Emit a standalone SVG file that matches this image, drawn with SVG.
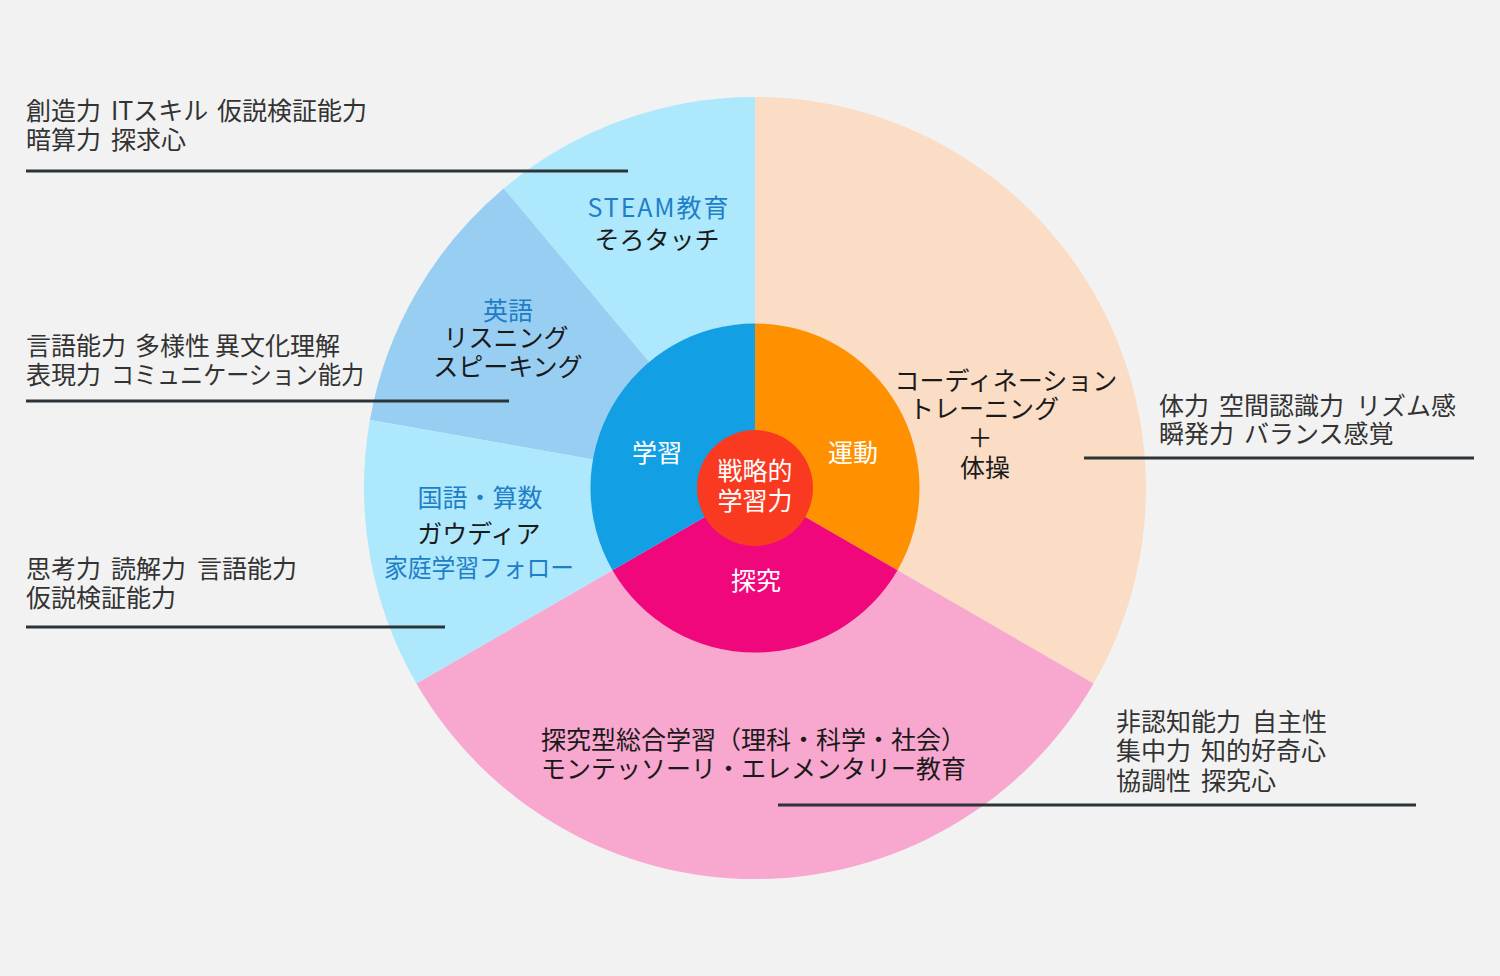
<svg xmlns="http://www.w3.org/2000/svg" width="1500" height="976" viewBox="0 0 1500 976">
<style>
text{font-family:"Noto Sans CJK JP","Noto Sans",sans-serif;font-size:25px}
.lbl{fill:#333333}
.blk{fill:#1a1a1a}
.blu{fill:#1e7ec8}
.wht{fill:#ffffff}
.mid{text-anchor:middle}
.ln{stroke:#2b3438;stroke-width:3;fill:none}
</style>
<rect width="1500" height="976" fill="#f2f2f2"/>
<g id="outer-ring">
<path id="sec-undou" d="M755,488 L755,97 A391,391 0 0 1 1093.6,683.5 Z" fill="#fbdcc4"/>
<path id="sec-tankyu" d="M755,488 L1093.6,683.5 A391,391 0 0 1 416.4,683.5 Z" fill="#f8a7ce"/>
<path id="sec-steam" d="M755,488 L503.7,188.5 A391,391 0 0 1 755,97 Z" fill="#aee8fc"/>
<path id="sec-eigo" d="M755,488 L369.9,420.1 A391,391 0 0 1 503.7,188.5 Z" fill="#99cef3"/>
<path id="sec-kokugo" d="M755,488 L416.4,683.5 A391,391 0 0 1 369.9,420.1 Z" fill="#aee8fc"/>
</g>
<g id="inner-ring">
<path id="in-undou" d="M755,488 L755,323.5 A164.5,164.5 0 0 1 897.5,570.25 Z" fill="#ff9000"/>
<path id="in-tankyu" d="M755,488 L897.5,570.25 A164.5,164.5 0 0 1 612.5,570.25 Z" fill="#ef077b"/>
<path id="in-gakushu" d="M755,488 L612.5,570.25 A164.5,164.5 0 0 1 755,323.5 Z" fill="#129fe4"/>
</g>
<g id="center">
<circle cx="755" cy="488" r="58" fill="#f93a20"/>
<text class="wht mid" x="755" y="480">戦略的</text>
<text class="wht mid" x="755" y="510">学習力</text>
</g>
<g id="inner-labels">
<text class="wht mid" x="657" y="462">学習</text>
<text class="wht mid" x="853" y="462">運動</text>
<text class="wht mid" x="756" y="590">探究</text>
</g>
<g id="node-steam">
<text class="blu mid" x="658" y="217" textLength="141" lengthAdjust="spacing">STEAM教育</text>
<text class="blk mid" x="657" y="249">そろタッチ</text>
</g>
<g id="node-eigo">
<text class="blu mid" x="508" y="320">英語</text>
<text class="blk mid" x="506" y="347">リスニング</text>
<text class="blk mid" x="508" y="376">スピーキング</text>
</g>
<g id="node-kokugo">
<text class="blu mid" x="480" y="507">国語・算数</text>
<text class="blk mid" x="479" y="543">ガウディア</text>
<text class="blu mid" x="479" y="577" textLength="190" lengthAdjust="spacingAndGlyphs">家庭学習フォロー</text>
</g>
<g id="node-undou">
<text class="blk mid" x="1006" y="390">コーディネーション</text>
<text class="blk mid" x="984" y="418">トレーニング</text>
<text class="blk mid" x="980" y="447">＋</text>
<text class="blk mid" x="985" y="477">体操</text>
</g>
<g id="node-tankyu">
<text class="blk" x="541" y="749">探究型総合学習（理科・科学・社会）</text>
<text class="blk" x="541" y="778">モンテッソーリ・エレメンタリー教育</text>
</g>
<g id="connectors">
<line class="ln" x1="26" y1="171" x2="628" y2="171"/>
<line class="ln" x1="26" y1="401" x2="509" y2="401"/>
<line class="ln" x1="26" y1="627" x2="445" y2="627"/>
<line class="ln" x1="1084" y1="458" x2="1474" y2="458"/>
<line class="ln" x1="778" y1="805" x2="1416" y2="805"/>
</g>
<g id="label-steam">
<text class="lbl" x="26" y="120">創造力 <tspan x="111">ITスキル</tspan> <tspan x="217">仮説検証能力</tspan></text>
<text class="lbl" x="26" y="149">暗算力 <tspan x="111">探求心</tspan></text>
</g>
<g id="label-eigo">
<text class="lbl" x="26" y="355">言語能力 <tspan x="135">多様性</tspan> <tspan x="215">異文化理解</tspan></text>
<text class="lbl" x="26" y="384">表現力 <tspan x="111" textLength="253" lengthAdjust="spacingAndGlyphs">コミュニケーション能力</tspan></text>
</g>
<g id="label-kokugo">
<text class="lbl" x="26" y="578">思考力 <tspan x="111">読解力</tspan> <tspan x="197">言語能力</tspan></text>
<text class="lbl" x="26" y="607">仮説検証能力</text>
</g>
<g id="label-undou">
<text class="lbl" x="1159" y="415">体力 <tspan x="1219">空間認識力</tspan> <tspan x="1356">リズム感</tspan></text>
<text class="lbl" x="1159" y="443">瞬発力 <tspan x="1244">バランス感覚</tspan></text>
</g>
<g id="label-tankyu">
<text class="lbl" x="1116" y="731">非認知能力 <tspan x="1252">自主性</tspan></text>
<text class="lbl" x="1116" y="760">集中力 <tspan x="1201">知的好奇心</tspan></text>
<text class="lbl" x="1116" y="790">協調性 <tspan x="1201">探究心</tspan></text>
</g>
</svg>
